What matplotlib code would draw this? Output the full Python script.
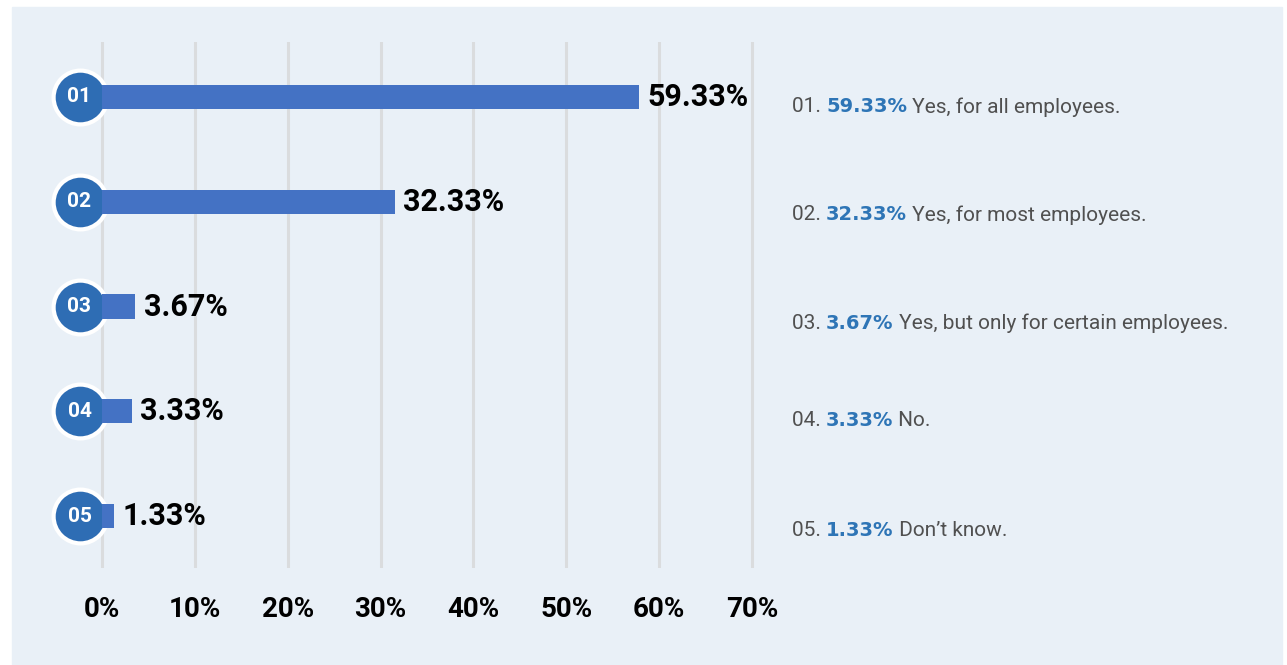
import matplotlib
matplotlib.use("Agg")
import matplotlib.pyplot as plt
from matplotlib.patches import Rectangle

# survey answers
codes = ["01", "02", "03", "04", "05"]
values = [59.33, 32.33, 3.67, 3.33, 1.33]
answers = ["Yes, for all employees.", "Yes, for most employees.",
           "Yes, but only for certain employees.", "No.", "Don\u2019t know."]
tick_vals = [0, 10, 20, 30, 40, 50, 60, 70]
tick_labels = ["0%", "10%", "20%", "30%", "40%", "50%", "60%", "70%"]

W, H = 1287, 665
bg = "#E9F0F7"
bar_col = "#4472C4"
circ_col = "#2E6DB4"
blue_txt = "#2E75B6"
gray_txt = "#505050"

fig = plt.figure(figsize=(W / 100, H / 100), dpi=100)
fig.patch.set_facecolor("white")
fig.patches.append(Rectangle((12 / W, 0), (1282 - 12) / W, (H - 7) / H,
                             transform=fig.transFigure, color=bg, zorder=-1))

# axes geometry in pixels
px0, px70 = 102, 752
unit = (px70 - px0) / 70
left_px, right_px = px0 - 3 * unit, px70 + 2 * unit
top_px, bot_px = 42, 568
ax = fig.add_axes([left_px / W, 1 - bot_px / H, (right_px - left_px) / W, (bot_px - top_px) / H])
ax.set_facecolor("none")
ax.set_xlim(-3, 72)
row0, step = 97, 104.75
ax.set_ylim((bot_px - row0) / step, (top_px - row0) / step)
for s in ax.spines.values():
    s.set_visible(False)
ax.set_xticks(tick_vals)
ax.set_xticklabels(tick_labels, fontfamily="Roboto", fontweight="bold", fontsize=20)
ax.tick_params(axis="x", length=0, pad=20)
ax.set_yticks([])
ax.xaxis.grid(True, color="#DADCDE", lw=2.2)
ax.set_axisbelow(True)

# bars use their own scale, as in the source graphic
bar_unit = 9.05
ax2 = ax.twiny()
ax2.set_xlim(-(px0 - left_px) / bar_unit, (right_px - px0) / bar_unit)
ax2.axis("off")
ys = list(range(len(values)))
ax2.barh(ys, values, height=0.23, color=bar_col, zorder=2)
for y, v in zip(ys, values):
    ax2.annotate(f"{v:.2f}%", (v, y), xytext=(6, 0), textcoords="offset points",
                 va="center", ha="left", fontsize=22, fontweight="bold",
                 fontfamily="Roboto", color="black")

# numbered circles
cx = (79.5 - px0) / unit
ax.scatter([cx] * len(ys), ys, s=1500, color=circ_col, edgecolor="white",
           linewidth=3, zorder=5, clip_on=False)
for y, c in zip(ys, codes):
    ax.text(cx, y, c, color="white", fontsize=15, fontweight="bold",
            fontfamily="Roboto", ha="center", va="center", zorder=6)

# legend text on the right
legend_y = [105, 213, 321, 418, 528]
fig.canvas.draw()
r = fig.canvas.get_renderer()
for c, v, a, yp in zip(codes, values, answers, legend_y):
    x = 792
    parts = [(f"{c}. ", gray_txt, ["Roboto"], "normal", 15),
             (f"{v:.2f}%", blue_txt, ["DejaVu Sans"], "bold", 14),
             (f" {a}", gray_txt, ["Roboto"], "normal", 15)]
    for txt, col, fam, wt, fs in parts:
        t = fig.text(x / W, 1 - yp / H, txt, color=col, family=fam, fontweight=wt,
                     fontsize=fs, va="center_baseline", ha="left")
        bb = t.get_window_extent(renderer=r)
        x += bb.width

fig.savefig("out.png", dpi=100, facecolor=fig.get_facecolor())
